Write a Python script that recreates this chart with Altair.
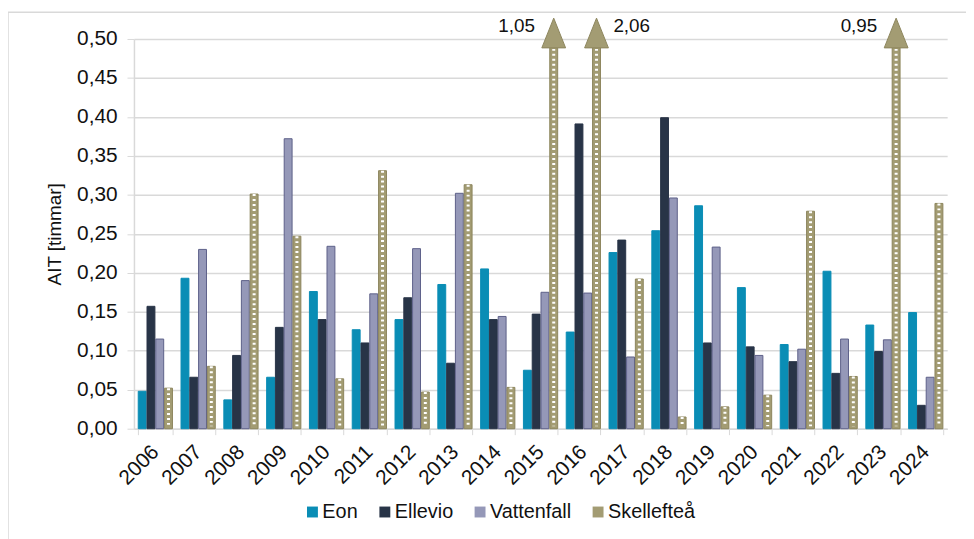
import altair as alt
import pandas as pd

years = [str(y) for y in range(2006, 2025)]
series = ["Eon", "Ellevio", "Vattenfall", "Skellefteå"]
eon =        [0.048, 0.193, 0.037, 0.066, 0.176, 0.127, 0.140, 0.185, 0.205, 0.075,
              0.124, 0.226, 0.254, 0.286, 0.181, 0.108, 0.202, 0.133, 0.149]
ellevio =    [0.157, 0.066, 0.094, 0.130, 0.140, 0.110, 0.168, 0.084, 0.140, 0.147,
              0.391, 0.242, 0.399, 0.110, 0.105, 0.086, 0.071, 0.099, 0.030]
vattenfall = [0.115, 0.230, 0.190, 0.372, 0.234, 0.173, 0.231, 0.302, 0.144, 0.175,
              0.174, 0.092, 0.296, 0.233, 0.094, 0.102, 0.115, 0.114, 0.066]
skelleftea = [0.052, 0.080, 0.301, 0.247, 0.064, 0.331, 0.047, 0.313, 0.053, 1.05,
              2.06, 0.192, 0.015, 0.028, 0.043, 0.279, 0.067, 0.95, 0.289]
y_ticks = [0.0, 0.05, 0.10, 0.15, 0.20, 0.25, 0.30, 0.35, 0.40, 0.45, 0.50]
y_max = 0.50
label_side = {"2015": "left", "2016": "right", "2023": "left"}

fills = ["#0a8db5", "#283447", "#9598b8", "#a39c73"]
strokes = ["#0a8db5", "#283447", "#5d6089", "#8c855c"]
FONT = "Liberation Sans"
FS = 21

rows = []
for s, vals in zip(series, [eon, ellevio, vattenfall, skelleftea]):
    for yr, v in zip(years, vals):
        rows.append({"year": yr, "series": s, "value": v,
                     "side": label_side.get(yr, "none") if v > y_max else "none"})
df = pd.DataFrame(rows)

x_axis = alt.Axis(title=None, labelAngle=-45, labelAlign="right",
                  labelBaseline="middle", labelPadding=14,
                  tickBand="extent", tickSize=6, tickColor="#d9d9d9",
                  domainColor="#d9d9d9", domainWidth=1.5,
                  labelFontSize=FS, labelFont=FONT, labelColor="#111",
                  labelOverlap=False, grid=False)
y_axis = alt.Axis(title="AIT [timmar]", values=y_ticks,
                  labelExpr="replace(format(datum.value, '.2f'), '.', ',')",
                  labelFontSize=FS, labelFont=FONT, labelColor="#111",
                  labelOverlap=False,
                  labelPadding=10, tickSize=7, tickColor="#d9d9d9",
                  domainColor="#d9d9d9", domainWidth=1.5,
                  gridColor="#d9d9d9", gridWidth=1.5,
                  titleFontSize=19, titleFont=FONT, titleFontWeight="normal",
                  titleColor="#111", titlePadding=12)

x_enc = alt.X("year:N", sort=years,
              scale=alt.Scale(domain=years, paddingInner=0.2, paddingOuter=0.1),
              axis=x_axis)
xo_enc = alt.XOffset("series:N", sort=series,
                     scale=alt.Scale(domain=series, paddingInner=0.1))
y_enc = alt.Y("shown:Q", scale=alt.Scale(domain=[0, y_max], nice=False, zero=True),
              axis=y_axis)

base = alt.Chart(df).transform_calculate(
    shown=f"min(datum.value, {y_max})",
    label="replace(format(datum.value, '.2f'), '.', ',')",
)

bars = base.mark_bar(strokeWidth=1).encode(
    x=x_enc,
    xOffset=xo_enc,
    y=y_enc,
    fill=alt.Fill("series:N", sort=series,
                  scale=alt.Scale(domain=series, range=fills),
                  legend=alt.Legend(title=None, orient="none", direction="horizontal",
                                    legendX=170, legendY=467,
                                    symbolType="square", symbolSize=121,
                                    symbolStrokeWidth=0,
                                    labelFontSize=20, labelFont=FONT,
                                    labelColor="#111", labelOffset=0,
                                    columnPadding=17)),
    stroke=alt.Stroke("series:N", sort=series,
                      scale=alt.Scale(domain=series, range=strokes), legend=None),
)

dashes = base.transform_filter(alt.datum.series == "Skellefteå").mark_rule(
    color="white", strokeWidth=3, strokeDash=[2, 3]
).encode(
    x=x_enc,
    xOffset=xo_enc,
    y=y_enc,
    y2=alt.datum(0.003),
)

arrows = base.transform_filter(alt.datum.value > y_max).mark_point(
    shape="M-0.8,1L0.8,1L0,-1Z", filled=True, size=900, opacity=1,
    fill="#a39c73", stroke="#8c855c", strokeWidth=1, yOffset=-6
).encode(
    x=x_enc,
    xOffset=xo_enc,
    y=y_enc,
)

text_left = base.transform_filter(alt.datum.side == "left").mark_text(
    align="right", baseline="middle", dx=-19, dy=-13, fontSize=19, font=FONT, color="#111"
).encode(x=x_enc, xOffset=xo_enc, y=y_enc, text="label:N")
text_right = base.transform_filter(alt.datum.side == "right").mark_text(
    align="left", baseline="middle", dx=17, dy=-13, fontSize=19, font=FONT, color="#111"
).encode(x=x_enc, xOffset=xo_enc, y=y_enc, text="label:N")

frame = alt.Chart(alt.Data(values=[{"f": 1}])).mark_rect(
    fillOpacity=0, stroke="#d9d9d9", strokeWidth=1.5
).encode(x=alt.value(-127), x2=alt.value(860), y=alt.value(-27), y2=alt.value(520))

chart = alt.layer(bars, dashes, arrows, text_left, text_right, frame).properties(
    width=820, height=393,
    autosize=alt.AutoSizeParams(type="none"),
    padding={"left": 127, "top": 29, "right": 19, "bottom": 109},
    background="white",
).configure_view(stroke=None)

chart.save("out.html", embed_options={"renderer": "svg", "actions": False})
